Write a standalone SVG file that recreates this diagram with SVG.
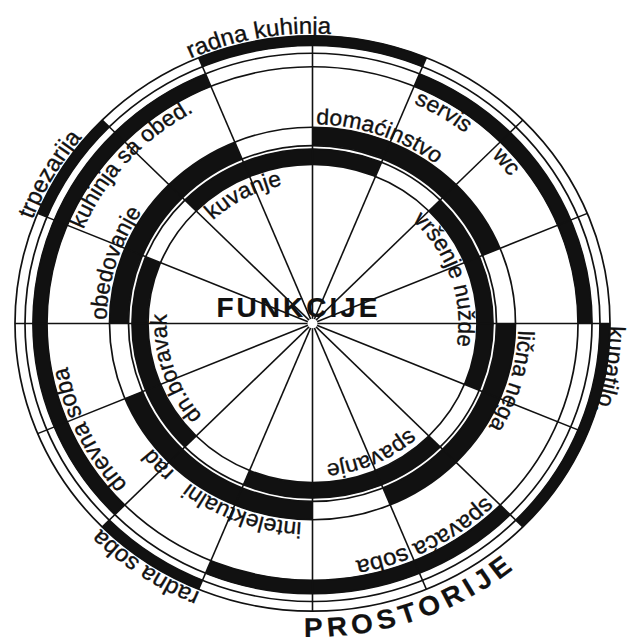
<svg xmlns="http://www.w3.org/2000/svg" width="629" height="641" viewBox="0 0 629 641">
<style>
.thin{fill:none;stroke:#111;stroke-width:1.7}
.ln{fill:none;stroke:#111;stroke-width:1.6}
.a{fill:none;stroke:#111;stroke-width:10.5}
.b{fill:none;stroke:#111;stroke-width:14.5}
.c{fill:none;stroke:#111;stroke-width:19}
.d{fill:none;stroke:#111;stroke-width:16}
text{font-family:"Liberation Sans",Arial,sans-serif;fill:#111;stroke:#111;stroke-width:0.35}
.l23{font-size:23px}
.l24{font-size:24px}
.big{font-size:28px;font-weight:bold;stroke-width:0.2}
</style>
<rect width="629" height="641" fill="#fff"/>
<g transform="translate(312.5 323.5) scale(1 0.967)">
<defs>
<path id="pRK" d="M -122.02 -274.06 A 300 300 0 0 1 274.06 -122.02"/>
<path id="pTR" d="M -280.07 -107.51 A 300 300 0 0 1 107.51 -280.07"/>
<path id="pKU" d="M 295.99 2.58 A 296 296 0 0 1 -2.58 295.99"/>
<path id="pRS" d="M -112.38 278.15 A 300 300 0 0 1 -278.15 -112.38"/>
<path id="pKO" d="M -229.20 -97.29 A 249 249 0 0 1 97.29 -229.20"/>
<path id="pSE" d="M 101.28 -227.47 A 249 249 0 0 1 227.47 101.28"/>
<path id="pWC" d="M 179.12 -172.97 A 249 249 0 0 1 172.97 179.12"/>
<path id="pDS" d="M -185.04 166.61 A 249 249 0 0 1 -166.61 -185.04"/>
<path id="pSS" d="M 172.97 179.12 A 249 249 0 0 1 -179.12 172.97"/>
<path id="pDO" d="M 3.59 -205.97 A 206 206 0 0 1 205.97 3.59"/>
<path id="pOB" d="M -205.97 -3.59 A 206 206 0 0 1 3.59 -205.97"/>
<path id="pLN" d="M 205.87 7.19 A 206 206 0 0 1 -7.19 205.87"/>
<path id="pIR" d="M -10.78 205.72 A 206 206 0 0 1 -205.72 -10.78"/>
<path id="pKV" d="M -99.57 -106.78 A 146 146 0 0 1 106.78 -99.57"/>
<path id="pVN" d="M 99.57 -106.78 A 146 146 0 0 1 106.78 99.57"/>
<path id="pSP" d="M 96.74 109.35 A 146 146 0 0 1 -109.35 96.74"/>
<path id="pDB" d="M -110.19 95.78 A 146 146 0 0 1 -95.78 -110.19"/>
<path id="pPR" d="M -8.48 323.89 A 324 324 0 0 0 323.89 8.48"/>
</defs>

<g id="ringA-fill">
<path class="a" d="M -111.93 -270.23 A 292.5 292.5 0 0 1 111.93 -270.23"/>
<path class="a" d="M -270.23 -111.93 A 292.5 292.5 0 0 1 -206.83 -206.83"/>
<path class="a" d="M -111.93 270.23 A 292.5 292.5 0 0 1 -206.83 206.83"/>
<path class="a" d="M 292.5 0 A 292.5 292.5 0 0 1 206.83 206.83"/>
</g>
<g id="ringB-fill">
<path class="b" d="M -192.69 192.69 A 272.5 272.5 0 0 1 -104.28 -251.76"/>
<path class="b" d="M 192.69 192.69 A 272.5 272.5 0 0 1 -104.28 251.76"/>
<path class="b" d="M 104.28 -251.76 A 272.5 272.5 0 0 1 272.5 0"/>
</g>
<g id="ringC-fill">
<path class="c" d="M 0 -193.5 A 193.5 193.5 0 0 1 178.77 -74.05"/>
<path class="c" d="M -193.5 0 A 193.5 193.5 0 0 1 -74.05 -178.77"/>
<path class="c" d="M 0 193.5 A 193.5 193.5 0 0 1 -178.77 74.05"/>
<path class="c" d="M 193.5 0 A 193.5 193.5 0 0 1 74.05 178.77"/>
</g>
<g id="ringD-fill">
<path class="d" d="M -121.98 -121.98 A 172.5 172.5 0 0 1 66.01 -159.37"/>
<path class="d" d="M 121.98 -121.98 A 172.5 172.5 0 0 1 159.37 66.01"/>
<path class="d" d="M 121.98 121.98 A 172.5 172.5 0 0 1 -66.01 159.37"/>
<path class="d" d="M -121.98 121.98 A 172.5 172.5 0 0 1 -159.37 -66.01"/>
</g>
<g id="rings">
<circle class="thin" r="297.5"/>
<circle class="thin" r="287.5"/>
<circle class="thin" r="279.5"/>
<circle class="thin" r="265.5"/>
<circle class="thin" r="203"/>
<circle class="thin" r="184"/>
<circle class="thin" r="180.5"/>
<circle class="thin" r="164.5"/>
</g>
<g id="connectors">
<path class="ln" d="M -297.5 0 L 297.5 0"/>
<path class="ln" d="M 274.85 -113.85 L -274.85 113.85"/>
<path class="ln" d="M 210.37 -210.37 L -210.37 210.37"/>
<path class="ln" d="M 113.85 -274.85 L -113.85 274.85"/>
<path class="ln" d="M 0 -297.5 L 0 297.5"/>
<path class="ln" d="M -113.85 -274.85 L 113.85 274.85"/>
<path class="ln" d="M -210.37 -210.37 L 210.37 210.37"/>
<path class="ln" d="M -274.85 -113.85 L 274.85 113.85"/>
</g>
<circle r="5" fill="#fff"/>

<g id="rooms-outer">
<text class="l24"><textPath href="#pRK">radna kuhinja</textPath></text>
<text class="l24"><textPath href="#pTR">trpezarija</textPath></text>
<text class="l24"><textPath href="#pKU">kupatilo.</textPath></text>
<text class="l24"><textPath href="#pRS">radna soba</textPath></text>
</g>
<g id="rooms-inner">
<text class="l23"><textPath href="#pKO">kuhinja sa obed.</textPath></text>
<text class="l23"><textPath href="#pSE">servis</textPath></text>
<text class="l23"><textPath href="#pWC">wc</textPath></text>
<text class="l24"><textPath href="#pDS">dnevna soba</textPath></text>
<text class="l24"><textPath href="#pSS">spavaća soba</textPath></text>
</g>
<g id="functions">
<text class="l23"><textPath href="#pDO">domaćinstvo</textPath></text>
<text class="l23"><textPath href="#pOB">obedovanje</textPath></text>
<text class="l23"><textPath href="#pLN">lična nega</textPath></text>
<text class="l23" word-spacing="12"><textPath href="#pIR">intelektualni rad</textPath></text>
</g>
<g id="subfunctions">
<text class="l23"><textPath href="#pKV">kuvanje</textPath></text>
<text class="l23"><textPath href="#pVN">vršenje nužde</textPath></text>
<text class="l23"><textPath href="#pSP">spavanje</textPath></text>
<text class="l23"><textPath href="#pDB">dn.boravak</textPath></text>
</g>
<g id="title-prostorije">
<text class="big" letter-spacing="5"><textPath href="#pPR">PROSTORIJE</textPath></text>
</g>
</g>
<g id="title-funkcije">
<text class="big" x="298.5" y="317" text-anchor="middle" letter-spacing="3">FUNKCIJE</text>
</g>
</svg>
